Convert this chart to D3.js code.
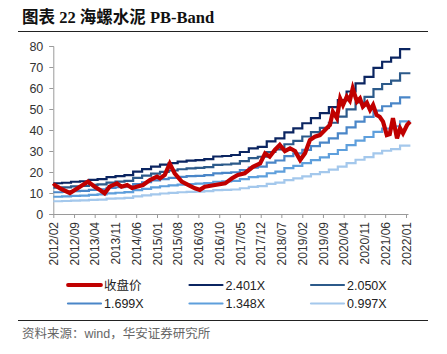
<!DOCTYPE html>
<html>
<head>
<meta charset="utf-8">
<script src="https://cdn.jsdelivr.net/npm/d3@7"></script>
<style>
  body { margin: 0; background: #fff; }
  svg { display: block; }
</style>
</head>
<body>
<script>
// tick labels on the x axis (every 7 months)
var tickLabels = ["2012/02","2012/09","2013/04","2013/11","2014/06","2015/01","2015/08","2016/03",
  "2016/10","2017/05","2017/12","2018/07","2019/02","2019/09","2020/04","2020/11","2021/06","2022/01"];

// quarterly book value per share
var bpsStart = "2012-02-01";
var bpsValues = [6.1, 6.2, 6.4, 6.5, 6.75, 6.9, 7.3, 7.5, 7.7, 8.4, 8.9, 9.4, 9.8, 10.1, 10.4, 10.6,
  10.7, 10.9, 11.4, 11.5, 11.7, 12.3, 13.0, 13.3, 14.4, 15.0, 16.2, 17.0, 18.0, 19.0, 20.0, 21.2,
  22.6, 24.3, 25.9, 27.2, 29.0, 30.2, 31.0, 32.7, 32.7];

var bandNames = ["2.401X", "2.050X", "1.699X", "1.348X", "0.997X"];
var bandMultiples = [2.401, 2.050, 1.699, 1.348, 0.997];
var bandColors = ["#0b2561", "#2c5a8a", "#4a86c8", "#5e9fdc", "#a4c8ec"];

// closing price
var closeDates = ["2012-02-01","2012-02-15","2012-04-10","2012-07-20","2012-11-01","2013-01-22","2013-04-01",
  "2013-05-25","2013-07-12","2013-09-01","2013-11-15","2014-01-01","2014-02-28","2014-04-20","2014-06-05",
  "2014-08-10","2014-10-20","2015-01-01","2015-02-01","2015-03-22","2015-05-12","2015-07-01","2015-09-12",
  "2015-12-01","2016-01-25","2016-03-15","2016-05-06","2016-08-18","2016-12-01","2017-02-10","2017-04-10",
  "2017-06-20","2017-09-12","2017-11-25","2018-01-15","2018-03-03","2018-04-25","2018-06-15","2018-08-06",
  "2018-09-28","2018-11-18","2019-01-10","2019-03-01","2019-04-20","2019-06-10","2019-08-01","2019-09-22",
  "2019-11-12","2019-12-12","2020-01-22","2020-02-25","2020-03-25","2020-05-03","2020-06-03","2020-07-03",
  "2020-08-15","2020-09-15","2020-10-15","2020-11-25","2020-12-28","2021-01-28","2021-03-06","2021-04-06",
  "2021-05-10","2021-06-18","2021-07-18","2021-08-20","2021-10-01","2021-11-01","2021-12-01","2022-01-12",
  "2022-02-12"];
var closeValues = [13.2, 13.8, 12.2, 10, 13, 15.4, 13, 11.4, 9.8, 13, 14.6, 13, 13.8, 12.4, 13,
  13.8, 16.2, 17.8, 17, 18.6, 24, 19.4, 15.4, 13.5, 12.2, 11.5, 13, 13.8, 14.6, 17, 18.6,
  19.4, 22.5, 24.1, 28.9, 27.3, 30.5, 32.9, 30, 31.3, 30, 25.7, 28.9, 35.2, 36.8, 37.6, 40,
  42.4, 48.7, 45.6, 55, 51.9, 55.9, 54, 59.8, 53.5, 55, 51.1, 53, 49.5, 51.9, 47.1, 46.3,
  44, 37.6, 38, 45.6, 36, 40.8, 38.4, 42.4, 44];

var yTicks = [0, 10, 20, 30, 40, 50, 60, 70, 80];

var width = 447, height = 354;
var parseMonth = d3.timeParse("%Y/%m");
var parseDay = d3.timeParse("%Y-%m-%d");

var svg = d3.select("body").append("svg")
    .attr("width", width)
    .attr("height", height);

// title + rules
svg.append("text")
    .attr("x", 22).attr("y", 23)
    .style("font-family", "'Liberation Serif', 'Noto Sans CJK SC'")
    .style("font-size", "16.5px")
    .style("font-weight", "bold")
    .attr("fill", "#111")
    .text("图表 22 海螺水泥 PB-Band");

svg.append("line").attr("x1", 18).attr("x2", 428).attr("y1", 31.5).attr("y2", 31.5)
    .attr("stroke", "#222").attr("stroke-width", 1.2);
svg.append("line").attr("x1", 18).attr("x2", 428).attr("y1", 320.5).attr("y2", 320.5)
    .attr("stroke", "#222").attr("stroke-width", 1);

svg.append("text")
    .attr("x", 22).attr("y", 338)
    .style("font-family", "'Liberation Sans', 'Noto Sans CJK SC'")
    .style("font-size", "12.5px")
    .attr("fill", "#666")
    .text("资料来源：wind，华安证券研究所");

var x = d3.scaleTime()
    .domain([parseMonth("2012/02"), parseMonth("2022/01")])
    .range([53.3, 406]);
var y = d3.scaleLinear().domain([0, 80]).range([214, 46]);

// axes
var yAxis = svg.append("g")
    .attr("transform", "translate(53.3,0)")
    .call(d3.axisLeft(y).tickValues(yTicks).tickSize(4).tickPadding(6));
yAxis.selectAll("text")
    .style("font-family", "'Liberation Sans', Arial")
    .style("font-size", "12.5px")
    .attr("fill", "#333");

var xAxis = svg.append("g")
    .attr("transform", "translate(0,214)")
    .call(d3.axisBottom(x)
        .tickValues(tickLabels.map(parseMonth))
        .tickFormat(d3.timeFormat("%Y/%m"))
        .tickSize(4)
        .tickSizeOuter(0));
xAxis.select(".domain").attr("d", "M53.3,0.5H408.5");
xAxis.selectAll("text")
    .style("font-family", "'Liberation Sans', Arial")
    .style("font-size", "12px")
    .attr("fill", "#333")
    .attr("text-anchor", "end")
    .attr("transform", "rotate(-90)")
    .attr("x", -8)
    .attr("y", 0)
    .attr("dy", "0.35em");

svg.selectAll(".domain, .tick line").attr("stroke", "#9a9a9a");

// bands
var start = parseDay(bpsStart);
var bpsDates = bpsValues.map(function (v, i) { return d3.timeMonth.offset(start, 3 * i); });
bpsDates[bpsDates.length - 1] = parseDay("2022-02-15");

var bandLine = d3.line()
    .x(function (d) { return x(d[0]); })
    .y(function (d) { return y(d[1]); })
    .curve(d3.curveStepAfter);

var bands = bandMultiples.map(function (k) {
    return bpsValues.map(function (v, i) { return [bpsDates[i], v * k]; });
});

svg.append("g").selectAll("path")
    .data(bands)
    .enter().append("path")
    .attr("d", bandLine)
    .attr("fill", "none")
    .attr("stroke", function (d, i) { return bandColors[i]; })
    .attr("stroke-width", 2.2);

// close price
var closeLine = d3.line()
    .x(function (d) { return x(parseDay(d[0])); })
    .y(function (d) { return y(d[1]); });

svg.append("path")
    .datum(closeDates.map(function (d, i) { return [d, closeValues[i]]; }))
    .attr("d", closeLine)
    .attr("fill", "none")
    .attr("stroke", "#c00000")
    .attr("stroke-width", 4.2)
    .attr("stroke-linejoin", "miter");

// legend
var legendNames = ["收盘价"].concat(bandNames);
var legendColors = ["#c00000"].concat(bandColors);
var legend = svg.append("g").selectAll("g")
    .data(legendNames)
    .enter().append("g")
    .attr("transform", function (d, i) {
        return "translate(" + (68 + (i % 3) * 121.5) + "," + (285 + Math.floor(i / 3) * 18.5) + ")";
    });
legend.append("line")
    .attr("x1", 0).attr("x2", 33)
    .attr("stroke", function (d, i) { return legendColors[i]; })
    .attr("stroke-width", function (d, i) { return i === 0 ? 3.8 : 2.2; })
    .attr("stroke-linecap", "round");
legend.append("text")
    .attr("x", 36).attr("dy", "0.36em")
    .style("font-family", function (d, i) { return i === 0 ? "'Noto Sans CJK SC'" : "'Liberation Sans', Arial"; })
    .style("font-size", "12.5px")
    .attr("fill", "#222")
    .text(function (d) { return d; });
</script>
</body>
</html>
